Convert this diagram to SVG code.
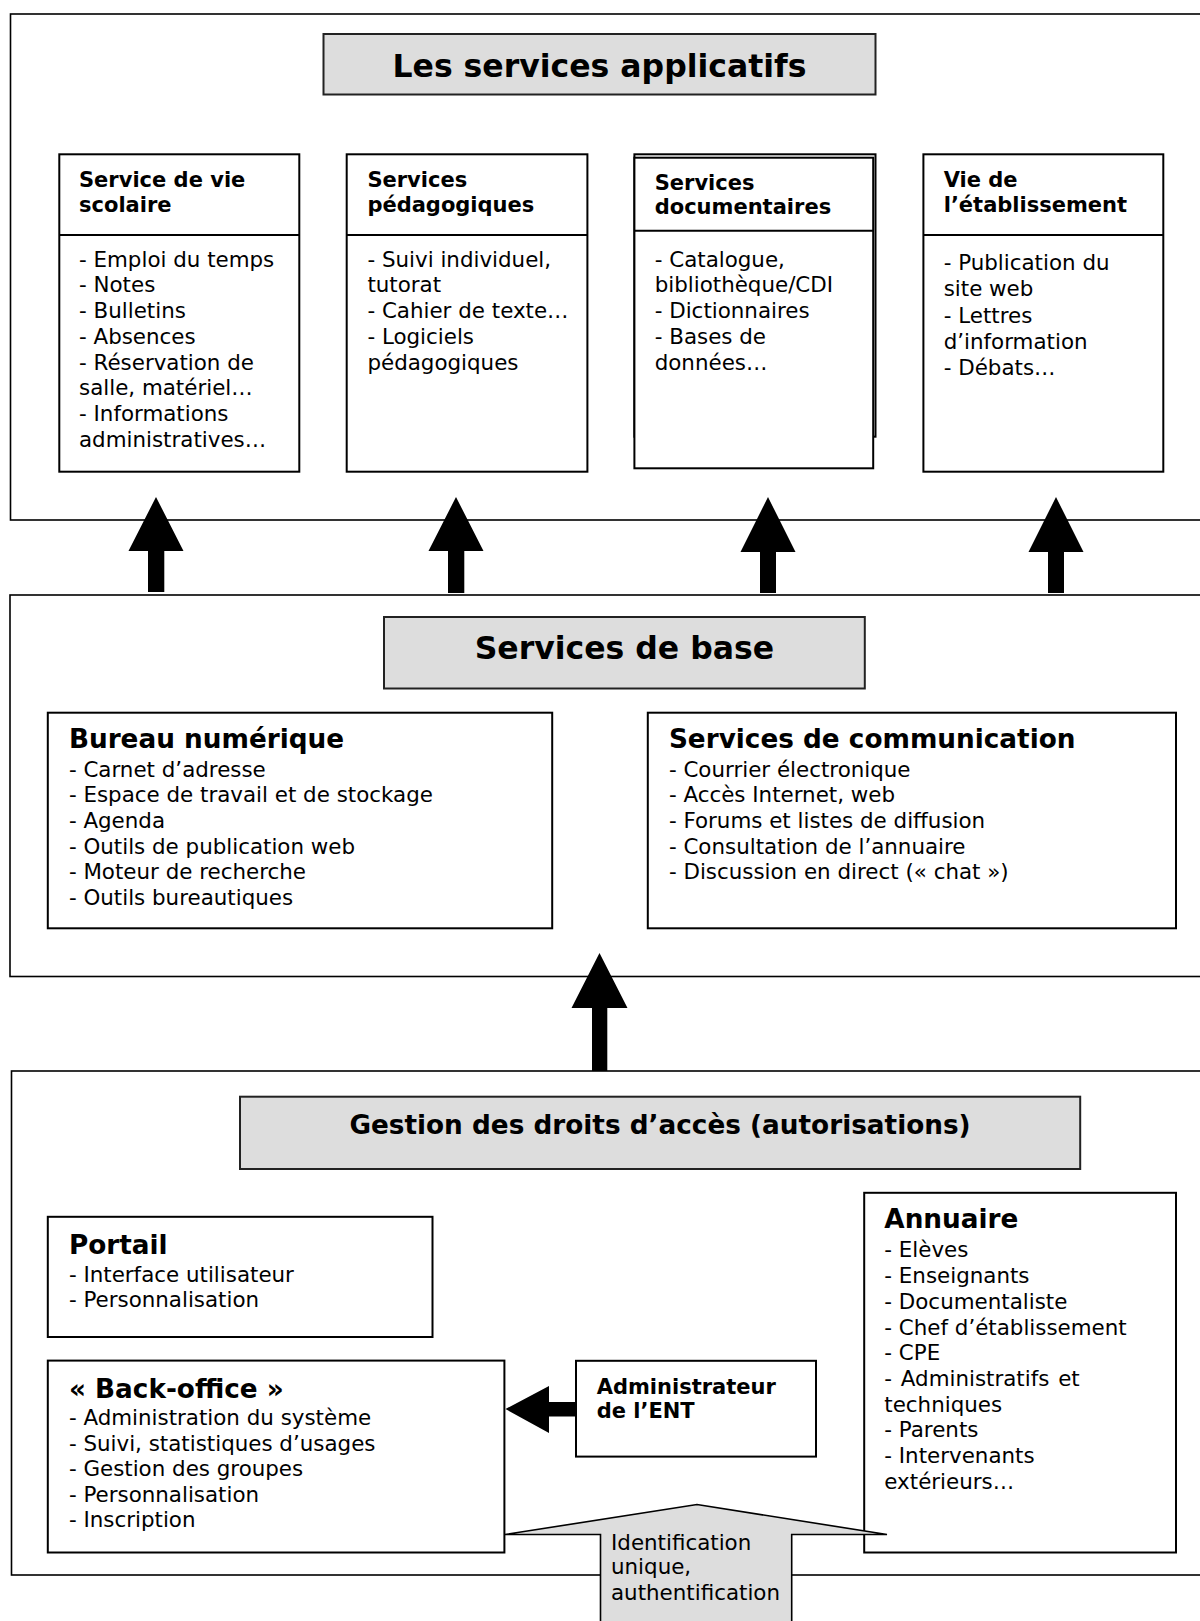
<svg xmlns="http://www.w3.org/2000/svg" width="1200" height="1621" viewBox="0 0 1200 1621">
<style>
text{font-family:"DejaVu Sans",Verdana,sans-serif;fill:#000}
.T{font-size:31.5px;font-weight:bold}
.H{font-size:26.3px;font-weight:bold}
.h{font-size:21px;font-weight:bold}
.t{font-size:21.4px}
.frame{fill:#fff;stroke:#000;stroke-width:1.6}
.box{fill:#fff;stroke:#000;stroke-width:2}
.title{fill:#dddddd;stroke:#222;stroke-width:2}
.arr{fill:#000;stroke:none}
.garr{fill:#dddddd;stroke:#000;stroke-width:1.6}
.div{stroke:#000;stroke-width:2}
</style>
<rect width="1200" height="1621" fill="#fff"/>

<!-- Outer frames -->
<g id="frame-applicatifs"><rect class="frame" x="10.5" y="14" width="1200" height="506"/></g>
<g id="frame-base"><rect class="frame" x="10" y="595" width="1200" height="381.5"/></g>
<g id="frame-gestion"><rect class="frame" x="11.5" y="1071" width="1200" height="504"/></g>

<g id="title-applicatifs">
<rect class="title" x="323.5" y="34" width="552" height="60.5"/>
<text class="T" x="599.5" y="77" text-anchor="middle">Les services applicatifs</text>
</g>

<g id="vie-scolaire">
<rect class="box" x="59.3" y="154.3" width="240" height="317.4"/>
<line class="div" x1="59.3" y1="235" x2="299.3" y2="235"/>
<text class="h" x="79" y="187.3">Service de vie</text>
<text class="h" x="79" y="212">scolaire</text>
<text class="t" x="79" y="266.7">- Emploi du temps</text>
<text class="t" x="79" y="292.4">- Notes</text>
<text class="t" x="79" y="318.1">- Bulletins</text>
<text class="t" x="79" y="343.8">- Absences</text>
<text class="t" x="79" y="369.5">- Réservation de</text>
<text class="t" x="79" y="395.2">salle, matériel…</text>
<text class="t" x="79" y="420.9">- Informations</text>
<text class="t" x="79" y="446.6">administratives…</text>
</g>

<g id="pedagogiques">
<rect class="box" x="346.7" y="154.3" width="240.7" height="317.4"/>
<line class="div" x1="346.7" y1="235" x2="587.4" y2="235"/>
<text class="h" x="367.4" y="187.3">Services</text>
<text class="h" x="367.4" y="212">pédagogiques</text>
<text class="t" x="367.4" y="266.7">- Suivi individuel,</text>
<text class="t" x="367.4" y="292.4">tutorat</text>
<text class="t" x="367.4" y="318.1">- Cahier de texte…</text>
<text class="t" x="367.4" y="343.8">- Logiciels</text>
<text class="t" x="367.4" y="369.5">pédagogiques</text>
</g>

<g id="documentaires">
<rect class="box" x="634.4" y="154.3" width="241.1" height="282.4"/>
<rect class="box" x="634.4" y="157.7" width="238.8" height="310.6"/>
<line class="div" x1="634.4" y1="230.7" x2="873.2" y2="230.7"/>
<text class="h" x="654.7" y="189.5">Services</text>
<text class="h" x="654.7" y="213.8">documentaires</text>
<text class="t" x="654.7" y="266.7">- Catalogue,</text>
<text class="t" x="654.7" y="292.4">bibliothèque/CDI</text>
<text class="t" x="654.7" y="318.1">- Dictionnaires</text>
<text class="t" x="654.7" y="343.8">- Bases de</text>
<text class="t" x="654.7" y="369.5">données…</text>
</g>

<g id="vie-etablissement">
<rect class="box" x="923.4" y="154.3" width="239.9" height="317.4"/>
<line class="div" x1="923.4" y1="235" x2="1163.3" y2="235"/>
<text class="h" x="943.7" y="186.7">Vie de</text>
<text class="h" x="943.7" y="211.7">l’établissement</text>
<text class="t" x="943.7" y="269.5">- Publication du</text>
<text class="t" x="943.7" y="296">site web</text>
<text class="t" x="943.7" y="322.5">- Lettres</text>
<text class="t" x="943.7" y="348.5">d’information</text>
<text class="t" x="943.7" y="374.7">- Débats…</text>
</g>

<g id="title-base">
<rect class="title" x="384" y="617" width="480.8" height="71.5"/>
<text class="T" x="624.4" y="659" text-anchor="middle">Services de base</text>
</g>

<g id="bureau">
<rect class="box" x="47.8" y="712.7" width="504.4" height="215.6"/>
<text class="H" x="68.9" y="748.3">Bureau numérique</text>
<text class="t" x="68.9" y="776.7">- Carnet d’adresse</text>
<text class="t" x="68.9" y="802.3">- Espace de travail et de stockage</text>
<text class="t" x="68.9" y="827.9">- Agenda</text>
<text class="t" x="68.9" y="853.5">- Outils de publication web</text>
<text class="t" x="68.9" y="879.1">- Moteur de recherche</text>
<text class="t" x="68.9" y="904.7">- Outils bureautiques</text>
</g>

<g id="communication">
<rect class="box" x="647.8" y="712.7" width="528.2" height="215.6"/>
<text class="H" x="668.9" y="748.3">Services de communication</text>
<text class="t" x="668.9" y="776.7">- Courrier électronique</text>
<text class="t" x="668.9" y="802.3">- Accès Internet, web</text>
<text class="t" x="668.9" y="827.9">- Forums et listes de diffusion</text>
<text class="t" x="668.9" y="853.5">- Consultation de l’annuaire</text>
<text class="t" x="668.9" y="879.1">- Discussion en direct (« chat »)</text>
</g>

<g id="title-gestion">
<rect class="title" x="240" y="1096.7" width="840.2" height="72.3"/>
<text class="H" x="660" y="1133.9" text-anchor="middle">Gestion des droits d’accès (autorisations)</text>
</g>

<g id="portail">
<rect class="box" x="47.8" y="1216.8" width="384.7" height="120.2"/>
<text class="H" x="68.9" y="1254">Portail</text>
<text class="t" x="68.9" y="1281.8">- Interface utilisateur</text>
<text class="t" x="68.9" y="1307.4">- Personnalisation</text>
</g>

<g id="back-office">
<rect class="box" x="47.8" y="1360.6" width="456.6" height="191.9"/>
<text class="H" x="68.9" y="1397.6">« Back-office »</text>
<text class="t" x="68.9" y="1425">- Administration du système</text>
<text class="t" x="68.9" y="1450.6">- Suivi, statistiques d’usages</text>
<text class="t" x="68.9" y="1476.2">- Gestion des groupes</text>
<text class="t" x="68.9" y="1501.8">- Personnalisation</text>
<text class="t" x="68.9" y="1527.4">- Inscription</text>
</g>

<g id="administrateur">
<rect class="box" x="576" y="1360.8" width="240" height="95.8"/>
<text class="h" x="596.7" y="1394">Administrateur</text>
<text class="h" x="596.7" y="1418.3">de l’ENT</text>
</g>

<g id="annuaire">
<rect class="box" x="864.2" y="1192.8" width="311.8" height="359.7"/>
<text class="H" x="884.3" y="1227.8">Annuaire</text>
<text class="t" x="884.3" y="1257.4">- Elèves</text>
<text class="t" x="884.3" y="1283.1">- Enseignants</text>
<text class="t" x="884.3" y="1308.8">- Documentaliste</text>
<text class="t" x="884.3" y="1334.5">- Chef d’établissement</text>
<text class="t" x="884.3" y="1360.2">- CPE</text>
<text class="t" x="884.3" y="1385.9" word-spacing="2">- Administratifs et</text>
<text class="t" x="884.3" y="1411.6">techniques</text>
<text class="t" x="884.3" y="1437.3">- Parents</text>
<text class="t" x="884.3" y="1463">- Intervenants</text>
<text class="t" x="884.3" y="1488.7">extérieurs…</text>
</g>

<g id="connectors">
<polygon class="arr" points="156,497 183.5,551 164.3,551 164.3,592 148,592 148,551 128.5,551"/>
<polygon class="arr" points="456,497 483.5,551 464.3,551 464.3,593 448,593 448,551 428.5,551"/>
<polygon class="arr" points="768,497 795.5,552 776,552 776,593 760,593 760,552 740.5,552"/>
<polygon class="arr" points="1056,497 1083.5,552 1064,552 1064,593 1048,593 1048,552 1028.5,552"/>
<polygon class="arr" points="599.5,953 627.5,1008 607.3,1008 607.3,1071 592,1071 592,1008 571.5,1008"/>
<polygon class="arr" points="505.5,1409 549,1386 549,1402 577,1402 577,1416.5 549,1416.5 549,1433"/>
<g id="identification">
<polygon class="garr" points="505,1534.5 697,1504.5 887,1534.5 791.7,1534.5 791.7,1630 600.5,1630 600.5,1534.5"/>
<text class="t" x="611" y="1549.8">Identification</text>
<text class="t" x="611" y="1574.3">unique,</text>
<text class="t" x="611" y="1599.5">authentification</text>
</g>
</g>
</svg>
